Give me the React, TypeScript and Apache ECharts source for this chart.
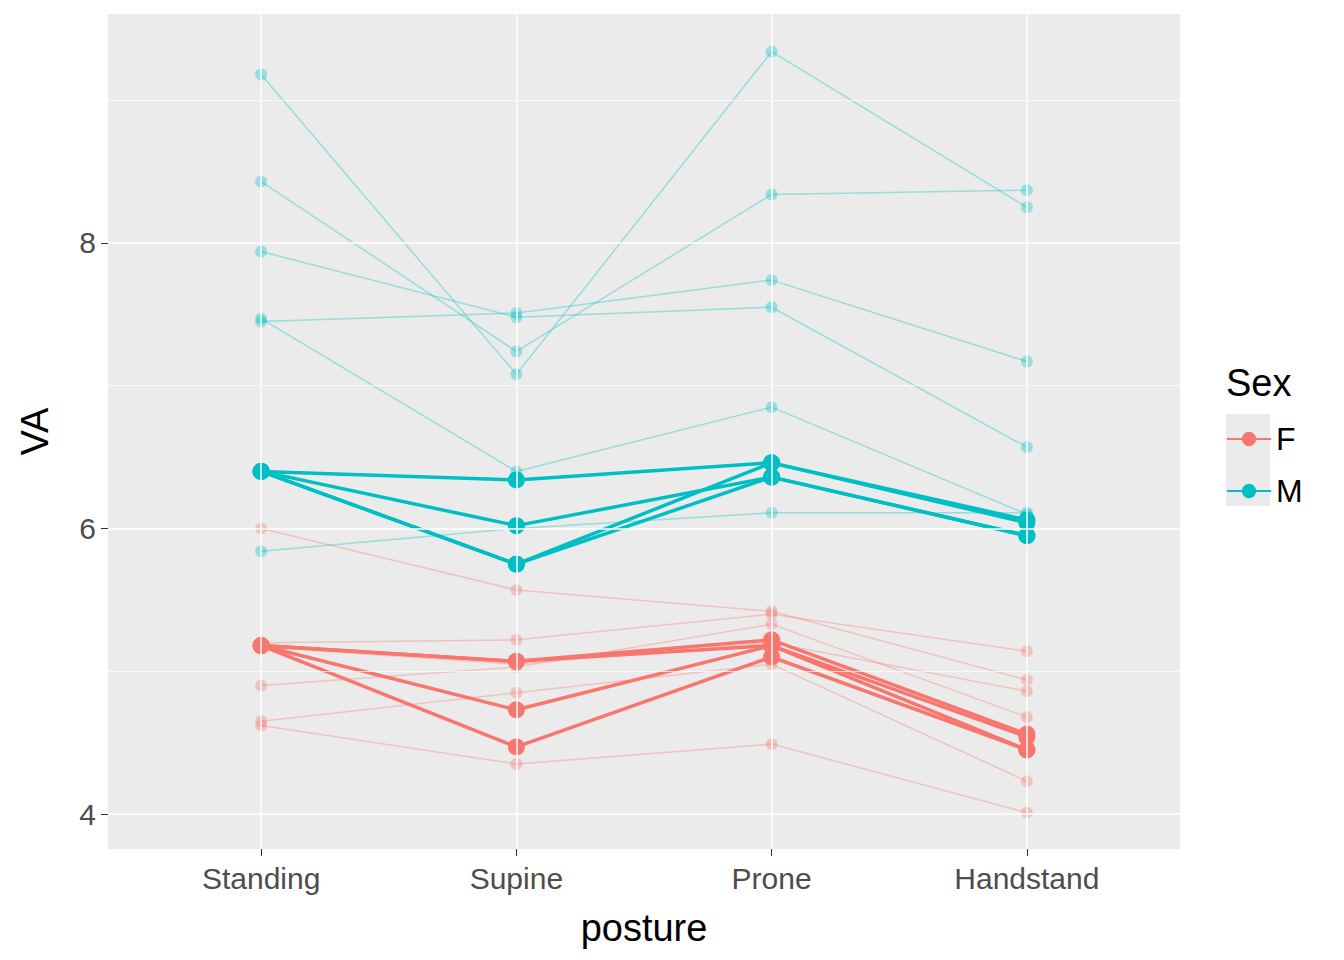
import { useEffect, useRef } from 'react';
import * as echarts from 'echarts';

const postures = ['Standing', 'Supine', 'Prone', 'Handstand'];
const yTicks = [4, 6, 8];
const minorTicks = [5, 7, 9];

// individual subjects (faint)
const maleSubjects = [
  [9.18, 7.08, 9.34, 8.25],
  [8.43, 7.24, 8.34, 8.37],
  [7.94, 7.48, 7.55, 6.57],
  [7.45, 7.51, 7.74, 7.17],
  [7.47, 6.4, 6.85, 6.1],
  [5.84, 6.0, 6.11, 6.11],
];
const femaleSubjects = [
  [6.0, 5.57, 5.42, 4.94],
  [5.2, 5.22, 5.4, 5.14],
  [5.17, 5.05, 5.2, 4.86],
  [4.9, 5.03, 5.33, 4.68],
  [4.65, 4.85, 5.05, 4.23],
  [4.62, 4.35, 4.49, 4.01],
];
// group means (bold)
const maleMeans = [
  [6.4, 6.34, 6.46, 6.04],
  [6.4, 6.02, 6.36, 5.95],
  [6.4, 5.75, 6.46, 6.06],
  [6.4, 5.75, 6.36, 5.95],
];
const femaleMeans = [
  [5.18, 5.07, 5.22, 4.56],
  [5.18, 5.07, 5.18, 4.45],
  [5.18, 4.73, 5.18, 4.54],
  [5.18, 4.47, 5.1, 4.45],
];

const F = '#F8766D';
const M = '#00BFC4';

const toPts = (vals: number[]) => vals.map((v, i) => [i + 1, v]);

export default function App() {
  const ref = useRef<HTMLDivElement>(null);
  useEffect(() => {
    if (!ref.current) return;
    const chart = echarts.init(ref.current, undefined, { renderer: 'svg' });
    const faint = (vals: number[], color: string) => ({
      type: 'line',
      data: toPts(vals),
      symbol: 'circle',
      symbolSize: 12,
      lineStyle: { color, width: 1.5, opacity: 0.35 },
      itemStyle: { color, opacity: 0.35 },
      silent: true,
      z: 3,
    });
    const bold = (vals: number[], color: string, name: string) => ({
      type: 'line',
      name,
      data: toPts(vals),
      symbol: 'circle',
      symbolSize: 17,
      lineStyle: { color, width: 3.5 },
      itemStyle: { color },
      z: 4,
    });
    const gridLines = {
      type: 'line',
      data: [],
      silent: true,
      markLine: {
        silent: true,
        symbol: 'none',
        label: { show: false },
        data: [
          ...yTicks.map((v) => ({ yAxis: v, lineStyle: { color: '#fff', width: 1.5, type: 'solid' } })),
          ...minorTicks.map((v) => ({ yAxis: v, lineStyle: { color: '#fff', width: 0.7, type: 'solid' } })),
          ...postures.map((_, i) => ({ xAxis: i + 1, lineStyle: { color: '#fff', width: 1.5, type: 'solid' } })),
        ],
      },
      z: 1,
    };
    chart.setOption({
      animation: false,
      grid: { left: 88, top: 6, width: 1084, height: 835, show: true, backgroundColor: '#EBEBEB', borderWidth: 0 },
      xAxis: {
        type: 'value',
        min: 0.4,
        max: 4.6,
        splitLine: { show: false },
        axisLine: { show: false },
        axisTick: { show: true, customValues: [1, 2, 3, 4], length: 7, lineStyle: { color: '#333' } },
        axisLabel: {
          customValues: [1, 2, 3, 4],
          formatter: (v: number) => postures[Math.round(v) - 1] ?? '',
          fontSize: 30,
          color: '#4D4D4D',
          fontFamily: 'Liberation Sans',
          margin: 14,
        },
        name: 'posture',
        nameLocation: 'middle',
        nameGap: 60,
        nameTextStyle: { fontSize: 38, color: '#000', fontFamily: 'Liberation Sans' },
      },
      yAxis: {
        type: 'value',
        min: 3.755,
        max: 9.604,
        splitLine: { show: false },
        axisLine: { show: false },
        axisTick: { show: true, customValues: yTicks, length: 7, lineStyle: { color: '#333' } },
        axisLabel: {
          customValues: yTicks,
          fontSize: 30,
          color: '#4D4D4D',
          fontFamily: 'Liberation Sans',
          margin: 12,
        },
        name: 'VA',
        nameLocation: 'middle',
        nameGap: 54,
        nameTextStyle: { fontSize: 38, color: '#000', fontFamily: 'Liberation Sans' },
      },
      legend: {
        data: ['F', 'M'],
        orient: 'vertical',
        left: 1218,
        top: 415,
        padding: 0,
        itemWidth: 44,
        itemHeight: 18,
        itemGap: 20,
        textStyle: { fontSize: 32, color: '#000', fontFamily: 'Liberation Sans' },
        selectedMode: false,
      },
      graphic: [
        { type: 'rect', left: 1218, top: 406, shape: { width: 44, height: 92 }, style: { fill: '#EBEBEB' }, z: -1 },
        {
          type: 'text',
          left: 1218,
          top: 356,
          style: { text: 'Sex', fontSize: 38, fill: '#000', fontFamily: 'Liberation Sans' },
        },
      ],
      series: [
        gridLines,
        ...maleSubjects.map((d) => faint(d, M)),
        ...femaleSubjects.map((d) => faint(d, F)),
        ...femaleMeans.map((d) => bold(d, F, 'F')),
        ...maleMeans.map((d) => bold(d, M, 'M')),
      ],
    });
    return () => chart.dispose();
  }, []);
  return <div ref={ref} style={{ width: 1328, height: 944 }} />;
}
